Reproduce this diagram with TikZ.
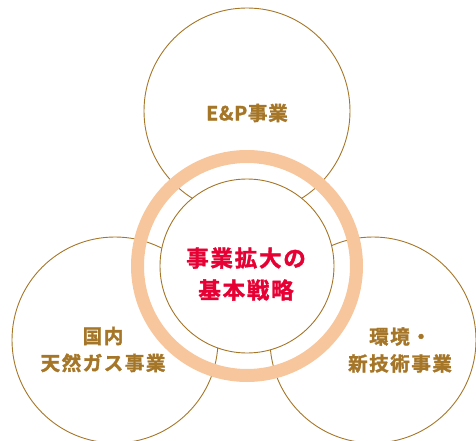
\documentclass[tikz,border=0pt]{standalone}
\usepackage{fontspec}
\newfontfamily\cjk{Noto Sans CJK JP}[BoldFont={Noto Sans CJK JP Bold},BoldFeatures={FakeBold=1.6},LetterSpace=8]
\newfontfamily\cjkl{Noto Sans CJK JP}[BoldFont={Noto Sans CJK JP Bold},BoldFeatures={FakeBold=1.6},LetterSpace=4]
\definecolor{brn}{RGB}{166,118,40}
\definecolor{rd}{RGB}{230,0,51}
\definecolor{peach}{RGB}{248,198,156}
\begin{document}
\begin{tikzpicture}[x=1pt,y=-1pt,
  outer/.style={circle,draw=brn,line width=0.9pt,minimum size=206pt,inner sep=0pt},
  outertext/.style={text=brn,font=\cjk\bfseries\fontsize{19.5}{27}\selectfont,align=center},
  centertext/.style={text=rd,font=\cjk\bfseries\fontsize{22.5}{32}\selectfont,align=center}]
\useasboundingbox (0,0) rectangle (476,441);
\node[outer] (ep) at (247,111) {};
\node[outer] (dom) at (115,340) {};
\node[outer] (env) at (373,340) {};
\node[circle,draw=peach,line width=13pt,minimum size=219pt,inner sep=0pt] (ring) at (247,266) {};
\node[circle,draw=brn,fill=white,line width=0.9pt,minimum size=174pt,inner sep=0pt] (core) at (247,266) {};
\node[outertext,font=\cjkl\bfseries\fontsize{19.5}{27}\selectfont] (eptext) at (247,113) {E\&P事業};
\node[outertext] (domtext) at (103,349.5) {国内\\天然ガス事業};
\node[outertext] (envtext) at (400,350) {環境・\\新技術事業};
\node[centertext] (coretext) at (246,274) {事業拡大の\\基本戦略};
\end{tikzpicture}
\end{document}
